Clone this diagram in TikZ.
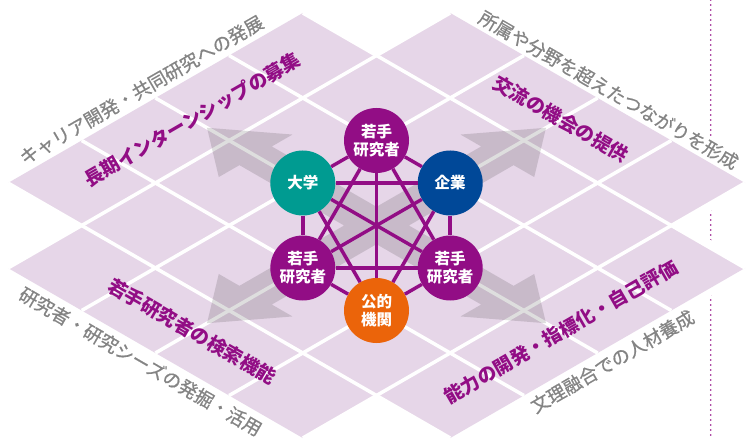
\documentclass[tikz,border=0pt]{standalone}
\usepackage{fontspec}
\newfontfamily\jpfont{Noto Sans CJK JP}
\newfontfamily\jpgrayfont{Noto Sans CJK JP}[FakeBold=0.7]
\definecolor{tilebg}{RGB}{230,214,232}
\definecolor{netpurple}{RGB}{146,13,133}
\definecolor{uniteal}{RGB}{0,155,145}
\definecolor{corpblue}{RGB}{0,72,152}
\definecolor{puborange}{RGB}{235,100,10}
\definecolor{captiongray}{RGB}{132,132,132}
\begin{document}
\begin{tikzpicture}
        [x=1bp,y=-1bp,
        actor/.style={circle,minimum size=65bp,inner sep=0pt,text=white,align=center,
            font=\jpfont\bfseries\fontsize{15.5bp}{18bp}\selectfont},
        theme/.style={text=netpurple,inner sep=0pt,font=\jpfont\bfseries\fontsize{19bp}{19bp}\selectfont},
        outcome/.style={text=captiongray,fill=white,inner sep=1bp,font=\jpgrayfont\fontsize{18.5bp}{18.5bp}\selectfont},
        link/.style={netpurple,line width=3.5bp},
        gridline/.style={white,line width=3.5bp},
        flow/.style={fill=black,fill opacity=0.13}]
        \useasboundingbox (0,0) rectangle (746,440);
        \draw[netpurple,line width=1.8bp,line cap=round,dash pattern=on 0bp off 5bp] (710.7,0) -- (710.7,440);
        \begin{scope}[shift={(8,183)},x={(73.7bp,42.5bp)},y={(73.7bp,-42.5bp)}]
        \fill[tilebg,preaction={draw=white,line width=14bp,line join=round}]
            (0,0) -- (4,0) -- (4,1) -- (5,1) -- (5,5) -- (4,5) -- (4,6) -- (0,6)
            -- (0,5) -- (-1,5) -- (-1,1) -- (0,1) -- cycle;
        \foreach \k in {0,...,4}
            \draw[gridline] (\k,0) -- (\k,6);
        \foreach \k in {1,...,5}
            \draw[gridline] (-1,\k) -- (5,\k);
        \fill[flow] \foreach \dx/\dy in {1/0,0/1,-1/0,0/-1}{
            ({2+0.22*\dy},{3-0.22*\dx}) -- ({2+1.64*\dx+0.22*\dy},{3+1.64*\dy-0.22*\dx})
            -- ({2+1.64*\dx+0.5*\dy},{3+1.64*\dy-0.5*\dx}) -- ({2+2.3*\dx},{3+2.3*\dy})
            -- ({2+1.64*\dx-0.5*\dy},{3+1.64*\dy+0.5*\dx}) -- ({2+1.64*\dx-0.22*\dy},{3+1.64*\dy+0.22*\dx})
            -- ({2-0.22*\dy},{3+0.22*\dx}) -- cycle};
        \node[actor,fill=netpurple] (youngtop) at (3,2) {若手\\研究者};
        \node[actor,fill=uniteal] (univ) at (2,2) {大学};
        \node[actor,fill=corpblue] (corp) at (3,3) {企業};
        \node[actor,fill=netpurple] (youngleft) at (1,3) {若手\\研究者};
        \node[actor,fill=netpurple] (youngright) at (2,4) {若手\\研究者};
        \node[actor,fill=puborange] (public) at (1,4) {公的\\機関};
        \foreach \s/\t in {youngtop/univ,youngtop/corp,youngtop/youngleft,youngtop/youngright,youngtop/public,
            univ/corp,univ/youngleft,univ/youngright,univ/public,
            corp/youngleft,corp/youngright,corp/public,
            youngleft/youngright,youngleft/public,youngright/public}
            \draw[link] (\s) -- (\t);
        \node[theme,rotate=30] (intern) at (2,0.5) {長期インターンシップの募集};
        \node[theme,rotate=-30] (exchange) at (4.5,3) {交流の機会の提供};
        \node[theme,rotate=-30] (search) at (-0.5,3) {若手研究者の検索機能};
        \node[theme,rotate=30] (ability) at (2,5.5) {能力の開発・指標化・自己評価};
        \node[outcome,rotate=30] (career) at (2,-0.19) {キャリア開発・共同研究への発展};
        \node[outcome,rotate=-30] (network) at (5.17,2.98) {所属や分野を超えたつながりを形成};
        \node[outcome,rotate=-30] (seeds) at (-1.2,3) {研究者・研究シーズの発掘・活用};
        \node[outcome,rotate=30] (fusion) at (2,6.2) {文理融合での人材養成};
        \end{scope}
    \end{tikzpicture}
\end{document}
